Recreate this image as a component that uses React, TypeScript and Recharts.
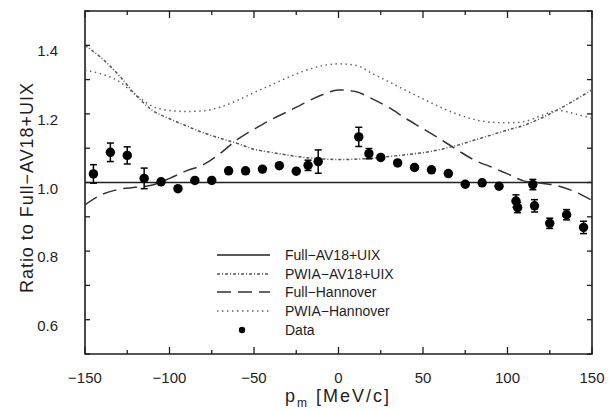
import React from "react";
import {
  ComposedChart, Line, Scatter, ErrorBar, XAxis, YAxis, ZAxis,
  ReferenceArea, Legend,
} from "recharts";

document.body.style.margin = "0";

// chart box and plot area
const W = 609;
const H = 410;
const Y_W = 85;
const X_H = 56;
const MARGIN = { top: 11, right: 17, left: 0, bottom: 0 };
const PLOT_W = W - Y_W - MARGIN.right;
const PLOT_H = H - MARGIN.top - X_H;

const FONT = '"Liberation Sans", Arial, Helvetica, sans-serif';
const INK = "#1e1e1e";

// missing momentum grid for the theory curves [MeV/c]
const pm = [
  -150, -140, -130, -120, -110, -100, -90, -80, -70, -60, -50,
  -40, -30, -20, -10, 0, 10, 20, 30, 40, 50,
  60, 70, 80, 90, 100, 110, 120, 130, 140, 150,
];

// ratios to Full-AV18+UIX
const fullAv18Pm = [-150, 150];
const fullAv18 = [1.0, 1.0];

const pwiaAv18 = [
  1.400, 1.362, 1.313, 1.255, 1.210, 1.186, 1.165, 1.145, 1.129, 1.114, 1.097,
  1.088, 1.080, 1.073, 1.069, 1.067, 1.068, 1.071, 1.076, 1.081, 1.087,
  1.096, 1.108, 1.123, 1.138, 1.153, 1.167, 1.188, 1.213, 1.241, 1.270,
];

const fullHannover = [
  0.935, 0.965, 0.980, 0.986, 0.993, 1.012, 1.034, 1.052, 1.085, 1.125, 1.155,
  1.183, 1.207, 1.232, 1.255, 1.270, 1.265, 1.244, 1.218, 1.186, 1.157,
  1.127, 1.096, 1.066, 1.046, 1.025, 1.004, 0.998, 0.990, 0.973, 0.948,
];

const pwiaHannover = [
  1.327, 1.316, 1.295, 1.256, 1.222, 1.210, 1.207, 1.209, 1.220, 1.239, 1.262,
  1.284, 1.306, 1.326, 1.340, 1.346, 1.342, 1.318, 1.293, 1.268, 1.244,
  1.220, 1.200, 1.184, 1.176, 1.174, 1.178, 1.195, 1.210, 1.200, 1.187,
];

// measured points
const dataPm = [
  -145, -135, -125, -115, -105, -95, -85, -75, -65, -55, -45, -35, -25, -18, -12,
  12, 18, 25, 35, 45, 55, 65, 75, 85, 95, 105, 106, 115, 116, 125, 135, 145,
];
const dataRatio = [
  1.025, 1.088, 1.079, 1.012, 1.002, 0.982, 1.006, 1.006, 1.034, 1.034, 1.039,
  1.049, 1.033, 1.050, 1.061,
  1.133, 1.084, 1.073, 1.057, 1.044, 1.037, 1.026, 0.995, 0.999, 0.989,
  0.946, 0.927, 0.994, 0.932, 0.881, 0.906, 0.869,
];
const dataErr = [
  0.027, 0.027, 0.025, 0.030, 0, 0, 0, 0, 0, 0, 0, 0, 0, 0.015, 0.034,
  0.028, 0.015, 0, 0, 0, 0, 0, 0, 0, 0,
  0.018, 0.015, 0.015, 0.018, 0.015, 0.015, 0.018,
];

const xTicks = [-150, -125, -100, -75, -50, -25, 0, 25, 50, 75, 100, 125, 150];
const yTicks = [0.5, 0.6, 0.7, 0.8, 0.9, 1.0, 1.1, 1.2, 1.3, 1.4, 1.5];
const yLabelled = [0.6, 0.8, 1.0, 1.2, 1.4];

const rows = (xs: number[], ys: number[]) => xs.map((p, i) => ({ p, r: ys[i] }));

const STYLES = {
  fullAv18: { stroke: "#222", dash: undefined as string | undefined },
  pwiaAv18: { stroke: "#555", dash: "3 2 1 2" },
  fullHannover: { stroke: "#333", dash: "14 7" },
  pwiaHannover: { stroke: "#666", dash: "1.5 3.5" },
};

const legendItems = [
  { label: "Full−AV18+UIX", ...STYLES.fullAv18 },
  { label: "PWIA−AV18+UIX", ...STYLES.pwiaAv18 },
  { label: "Full−Hannover", ...STYLES.fullHannover },
  { label: "PWIA−Hannover", ...STYLES.pwiaHannover },
  { label: "Data", stroke: "#000", dash: undefined, dot: true },
];

const fmtX = (v: number) => (v < 0 ? "−" + Math.abs(v) : String(v));

const XTick = (props: any) => {
  const { x, y, payload } = props;
  const v = payload.value as number;
  const major = v % 50 === 0;
  const len = major ? 7 : 4;
  return (
    <g>
      <line x1={x} x2={x} y1={y} y2={y - len} stroke={INK} strokeWidth={1.3} />
      <line x1={x} x2={x} y1={y - PLOT_H} y2={y - PLOT_H + len} stroke={INK} strokeWidth={1.3} />
      {major && (
        <text x={x} y={y} dy={29} textAnchor="middle" fontSize={15} fontFamily={FONT} fill={INK}>
          {fmtX(v)}
        </text>
      )}
    </g>
  );
};

const YTick = (props: any) => {
  const { x, y, payload } = props;
  const v = payload.value as number;
  const lab = yLabelled.some((t) => Math.abs(t - v) < 1e-6);
  const len = 5;
  return (
    <g>
      <line x1={x} x2={x + len} y1={y} y2={y} stroke={INK} strokeWidth={1.3} />
      <line x1={x + PLOT_W} x2={x + PLOT_W - len} y1={y} y2={y} stroke={INK} strokeWidth={1.3} />
      {lab && (
        <text x={x - 27} y={y} dy={11} textAnchor="end" fontSize={15} fontFamily={FONT} fill={INK}>
          {v.toFixed(1)}
        </text>
      )}
    </g>
  );
};

const renderLegend = () => (
  <div style={{ fontFamily: FONT, fontSize: 14, color: INK }}>
    {legendItems.map((it) => (
      <div key={it.label} style={{ display: "flex", alignItems: "center", height: 18.75 }}>
        <svg width={68} height={10} style={{ display: "block" }}>
          {it.dot ? (
            <circle cx={32} cy={5} r={3.2} fill="#000" />
          ) : (
            <line x1={7} x2={60} y1={5} y2={5} stroke={it.stroke} strokeWidth={1.5} strokeDasharray={it.dash} />
          )}
        </svg>
        <span style={{ marginLeft: 7, whiteSpace: "nowrap" }}>{it.label}</span>
      </div>
    ))}
  </div>
);

export default function App() {
  return (
    <div style={{ position: "relative", width: W, height: H, background: "#fff", fontFamily: FONT }}>
      <ComposedChart width={W} height={H} margin={MARGIN}>
        <XAxis
          type="number" dataKey="p" domain={[-150, 150]} ticks={xTicks} interval={0}
          allowDataOverflow height={X_H} tickSize={0} tickMargin={0}
          axisLine={false} tickLine={false} tick={<XTick />}
        />
        <YAxis
          type="number" dataKey="r" domain={[0.5, 1.5]} ticks={yTicks} interval={0}
          allowDataOverflow width={Y_W} tickSize={0} tickMargin={0}
          axisLine={false} tickLine={false} tick={<YTick />}
        />
        <ZAxis range={[70, 70]} />
        <ReferenceArea x1={-150} x2={150} y1={0.5} y2={1.5} fill="none" fillOpacity={0} stroke={INK} strokeWidth={1.6} />
        <Line data={rows(fullAv18Pm, fullAv18)} dataKey="r" type="linear" dot={false}
          stroke={STYLES.fullAv18.stroke} strokeWidth={1.6} isAnimationActive={false} />
        <Line data={rows(pm, pwiaAv18)} dataKey="r" type="monotone" dot={false}
          stroke={STYLES.pwiaAv18.stroke} strokeWidth={1.5} strokeDasharray={STYLES.pwiaAv18.dash} isAnimationActive={false} />
        <Line data={rows(pm, fullHannover)} dataKey="r" type="monotone" dot={false}
          stroke={STYLES.fullHannover.stroke} strokeWidth={1.5} strokeDasharray={STYLES.fullHannover.dash} isAnimationActive={false} />
        <Line data={rows(pm, pwiaHannover)} dataKey="r" type="monotone" dot={false}
          stroke={STYLES.pwiaHannover.stroke} strokeWidth={1.5} strokeDasharray={STYLES.pwiaHannover.dash} isAnimationActive={false} />
        <Scatter
          data={dataPm.map((p, i) => ({ p, r: dataRatio[i], e: dataErr[i] }))}
          dataKey="r" fill="#000" shape="circle" isAnimationActive={false}
        >
          <ErrorBar dataKey="e" direction="y" width={3.5} stroke="#000" strokeWidth={1.5} isAnimationActive={false} />
        </Scatter>
        <Legend
          layout="vertical" align="center" verticalAlign="middle"
          content={renderLegend}
          wrapperStyle={{ left: 210, top: 245.5, width: 220 }}
        />
      </ComposedChart>

      {/* axis titles */}
      <svg width={W} height={H} style={{ position: "absolute", left: 0, top: 0, pointerEvents: "none" }}>
        <g transform="translate(33 188) rotate(-90)">
          <text
            x={-105} y={0} textLength={210} lengthAdjust="spacing"
            fontFamily={FONT} fontSize={18} fill={INK}
          >
            Ratio to Full−AV18+UIX
          </text>
        </g>
        <text x={338} y={402} textAnchor="middle" fontFamily={FONT} fontSize={18} letterSpacing={2} fill={INK}>
          p<tspan fontSize={12} dy={5}>m</tspan><tspan dy={-5}> [MeV/c]</tspan>
        </text>
      </svg>
    </div>
  );
}
